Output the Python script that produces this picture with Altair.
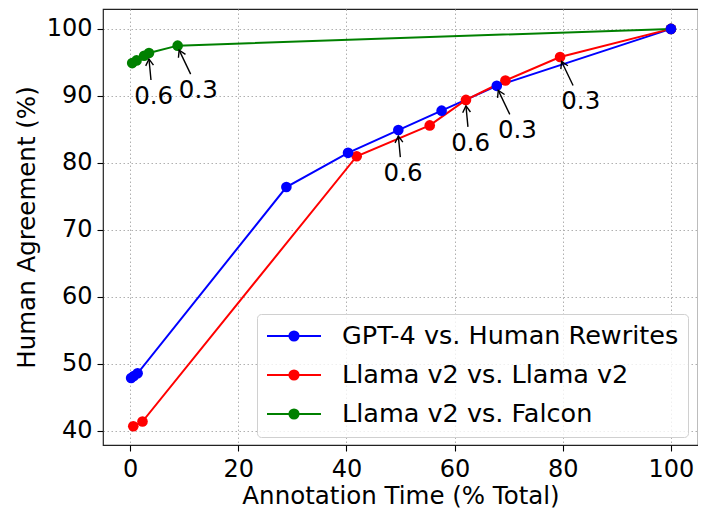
import altair as alt
import pandas as pd

series_names = ["GPT-4 vs. Human Rewrites", "Llama v2 vs. Llama v2", "Llama v2 vs. Falcon"]
series_colors = ["#0000ff", "#ff0000", "#008000"]

gpt_x = [0.2, 0.7, 1.4, 28.9, 40.3, 49.6, 57.6, 67.8, 100]
gpt_y = [47.9, 48.2, 48.6, 76.4, 81.5, 84.9, 87.8, 91.5, 100]

llama_x = [0.6, 2.3, 41.9, 55.4, 62.1, 69.4, 79.5, 100]
llama_y = [40.7, 41.4, 81.0, 85.6, 89.4, 92.3, 95.8, 100]

falcon_x = [0.4, 1.2, 2.6, 3.5, 8.8, 100]
falcon_y = [94.9, 95.3, 96.0, 96.4, 97.5, 100]

ann_series = [series_names[0], series_names[0], series_names[1], series_names[1], series_names[2], series_names[2]]
ann_x = [49.6, 67.8, 62.1, 79.5, 3.5, 8.8]
ann_y = [84.9, 91.5, 89.4, 95.8, 96.4, 97.5]
ann_label = ["0.6", "0.3", "0.6", "0.3", "0.6", "0.3"]

x_ticks = [0, 20, 40, 60, 80, 100]
y_ticks = [40, 50, 60, 70, 80, 90, 100]

rows = []
for k, (name, xs, ys) in enumerate(zip(series_names, [gpt_x, llama_x, falcon_x], [gpt_y, llama_y, falcon_y])):
    for i, (xv, yv) in enumerate(zip(xs, ys)):
        rows.append({"series": name, "x": xv, "y": yv, "order": i, "k": k})
df = pd.DataFrame(rows)
ann = pd.DataFrame({"series": ann_series, "x": ann_x, "y": ann_y, "label": ann_label})

FONT = "DejaVu Sans"
FS = 24.5
FS_TICK = 24
FS_TITLE = 24.5
FS_LEGEND = 25.5

x_scale = alt.Scale(domain=[-5, 105], nice=False, zero=False)
y_scale = alt.Scale(domain=[37.9, 102.97], nice=False, zero=False)
color_scale = alt.Scale(domain=series_names, range=series_colors)

x_enc = alt.X("x:Q", scale=x_scale,
              axis=alt.Axis(values=x_ticks, title="Annotation Time (% Total)", labelPadding=6, titlePadding=3))
y_enc = alt.Y("y:Q", scale=y_scale,
              axis=alt.Axis(values=y_ticks, title="Human Agreement (%)", labelPadding=5, titlePadding=7))

legend_path = ("M-1,0L1,0"
               "M0.17,0A0.17,0.17,0,1,1,-0.17,0A0.17,0.17,0,1,1,0.17,0Z"
               "M0.12,0A0.12,0.12,0,1,1,-0.12,0A0.12,0.12,0,1,1,0.12,0Z"
               "M0.07,0A0.07,0.07,0,1,1,-0.07,0A0.07,0.07,0,1,1,0.07,0Z"
               "M0.02,0A0.02,0.02,0,1,1,-0.02,0A0.02,0.02,0,1,1,0.02,0Z")

lines = alt.Chart(df).mark_line(strokeWidth=2, point=alt.OverlayMarkDef(filled=True, size=113, opacity=1)).encode(
    x=x_enc, y=y_enc,
    color=alt.Color("series:N", scale=color_scale, sort=series_names,
                    legend=alt.Legend(title=None, orient="none", legendX=154, legendY=305,
                                      symbolType=legend_path, symbolSize=2916, symbolStrokeWidth=2,
                                      labelFontSize=FS_LEGEND, labelFont=FONT, labelColor="black",
                                      labelLimit=500, clipHeight=26,
                                      labelOffset=20, padding=9, rowPadding=12,
                                      strokeColor="#d0d0d0", fillColor="rgba(255,255,255,0.8)",
                                      cornerRadius=4)),
    order="order:Q",
    detail="series:N",
)

head_path = "M-0.6,1L0,0L0.6,1"

base_ann = alt.Chart(ann)

rule06 = base_ann.transform_filter(alt.datum.label == "0.6").mark_rule(
    color="black", strokeWidth=1.4, yOffset=6, x2Offset=2, y2Offset=27
).encode(x="x:Q", y="y:Q", x2="x:Q", y2="y:Q")
rule03 = base_ann.transform_filter(alt.datum.label == "0.3").mark_rule(
    color="black", strokeWidth=1.4, xOffset=1.5, yOffset=4.5, x2Offset=13, y2Offset=28.5
).encode(x="x:Q", y="y:Q", x2="x:Q", y2="y:Q")

head06 = base_ann.transform_filter(alt.datum.label == "0.6").mark_point(
    shape=head_path, size=169, filled=False, stroke="black", strokeWidth=1.4, opacity=1,
    angle=354.6, yOffset=6
).encode(x="x:Q", y="y:Q")
head03 = base_ann.transform_filter(alt.datum.label == "0.3").mark_point(
    shape=head_path, size=169, filled=False, stroke="black", strokeWidth=1.4, opacity=1,
    angle=334.4, xOffset=1.5, yOffset=4.5
).encode(x="x:Q", y="y:Q")

text06 = base_ann.transform_filter(alt.datum.label == "0.6").mark_text(
    font=FONT, fontSize=FS, color="black", dx=4.7, dy=44, align="center", baseline="middle"
).encode(x="x:Q", y="y:Q", text="label:N")
text03 = base_ann.transform_filter(alt.datum.label == "0.3").mark_text(
    font=FONT, fontSize=FS, color="black", dx=20.7, dy=45, align="center", baseline="middle"
).encode(x="x:Q", y="y:Q", text="label:N")

chart = alt.layer(lines, rule06, rule03, head06, head03, text06, text03).properties(
    width=595, height=436, autosize="none",
    padding={"left": 95, "top": 1, "right": 0, "bottom": 63},
).configure_view(
    stroke="#222222", strokeWidth=1.2
).configure_axis(
    labelFont=FONT, titleFont=FONT, labelFontSize=FS_TICK, titleFontSize=FS_TITLE,
    labelColor="black", titleColor="black", titleFontWeight="normal",
    tickColor="black", tickSize=6, tickWidth=1.1, domain=False,
    grid=True, gridColor="#b0b0b0", gridDash=[1.5, 2.5], gridWidth=1,
)

chart.save("out.html", embed_options={"renderer": "svg", "actions": False})
